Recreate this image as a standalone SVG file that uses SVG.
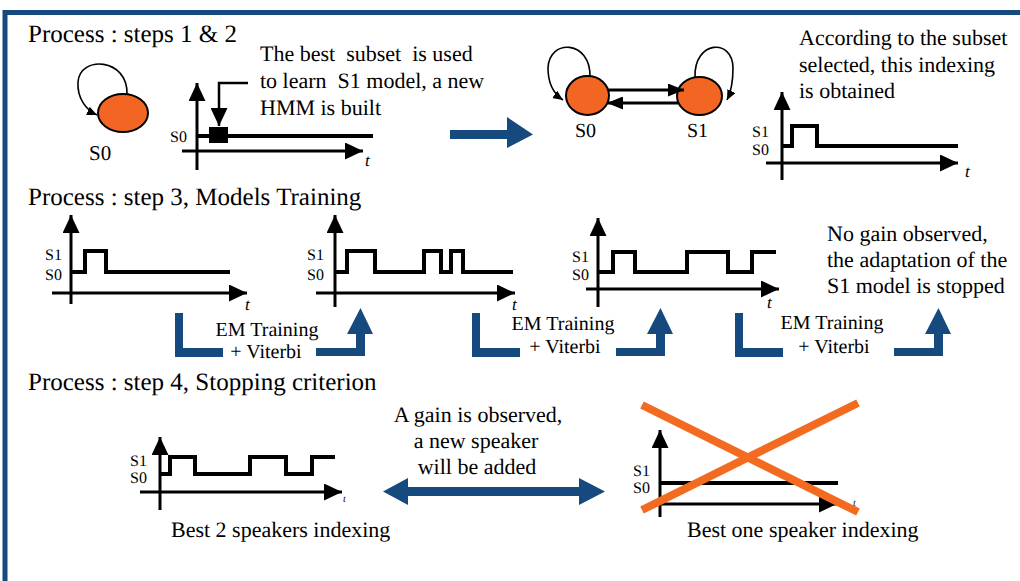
<svg xmlns="http://www.w3.org/2000/svg" width="1020" height="581" viewBox="0 0 1020 581" font-family="'Liberation Serif', 'Times New Roman', serif" text-rendering="geometricPrecision">
<style>
text{font-family:'Liberation Serif','Times New Roman',serif;fill:#000;text-rendering:geometricPrecision}
.h{font-size:25px}
.b{font-size:22px}
.em{font-size:20px}
.sl{font-size:20px}
.lab{font-size:16px}
.t{font-size:17px;font-style:italic}
.ts{font-size:10px;font-style:italic}
.axis{stroke:#000;stroke-width:3;fill:none}
.sig{stroke:#000;stroke-width:4;fill:none}
.st{fill:#f26522;stroke:#000;stroke-width:2}
.loop{stroke:#000;stroke-width:1.6;fill:none}
.tr{stroke:#000;stroke-width:3;fill:none}
.ptr{stroke:#000;stroke-width:2.5;fill:none}
.blue{fill:#164a7e}
.cross{stroke:#f26b21;stroke-width:8}
</style>
<defs>
<marker id="ah" markerUnits="userSpaceOnUse" markerWidth="18" markerHeight="17" refX="18" refY="8.5" orient="auto" viewBox="0 0 18 17"><path d="M0,0 L18,8.5 L0,17 z" fill="#000"/></marker>
<marker id="aht" markerUnits="userSpaceOnUse" markerWidth="16" markerHeight="13" refX="16" refY="6.5" orient="auto" viewBox="0 0 16 13"><path d="M0,0 L16,6.5 L0,13 z" fill="#000"/></marker>
<marker id="ahs" markerUnits="userSpaceOnUse" markerWidth="10" markerHeight="9" refX="10" refY="4.5" orient="auto" viewBox="0 0 10 9"><path d="M0,0 L10,4.5 L0,9 z" fill="#000"/></marker>
<path id="elbowL" class="blue" d="M0,313 H8 V348 H48 V357 H0 Z"/>
<path id="elbowR" class="blue" d="M0,348 H40 V334 H31 L44.5,308 L57,334 H49 V356 H0 Z"/>
</defs>

<g id="frame">
<path d="M5,581 V12.5 H1020" stroke="#164a7e" stroke-width="5" fill="none"/>
</g>

<g id="titles">
<text class="h" x="28" y="42">Process : steps 1 &amp; 2</text>
<text class="h" x="28" y="205">Process : step 3, Models Training</text>
<text class="h" x="28" y="390">Process : step 4, Stopping criterion</text>
</g>

<g id="state-s0-single">
<ellipse class="st" cx="123" cy="113" rx="25" ry="19"/>
<text class="sl" x="89" y="160" style="font-size:21px">S0</text>
</g>

<g id="chart-1">
<line class="axis" x1="197" y1="170" x2="197" y2="83" marker-end="url(#ah)"/>
<line class="axis" x1="182" y1="151" x2="363" y2="151" marker-end="url(#ah)"/>
<path class="sig" d="M197,136 H373"/>
<rect x="209" y="127" width="19" height="16" fill="#000"/>
<text class="lab" x="170" y="142">S0</text>
<text class="t" x="365" y="166">t</text>
</g>

<g id="note-1">
<text class="b" x="260" y="61" xml:space="preserve">The best  subset  is used</text>
<text class="b" x="260" y="88" xml:space="preserve">to learn  S1 model, a new</text>
<text class="b" x="260" y="115">HMM is built</text>
</g>

<g id="state-s0">
<ellipse class="st" cx="587.5" cy="95.5" rx="21.5" ry="19.5"/>
<text class="sl" x="575" y="137">S0</text>
</g>
<g id="state-s1">
<ellipse class="st" cx="699.5" cy="96" rx="22.5" ry="19"/>
<text class="sl" x="687" y="137">S1</text>
</g>

<g id="note-2">
<text class="b" x="799" y="45">According to the subset</text>
<text class="b" x="799" y="72">selected, this indexing</text>
<text class="b" x="799" y="98">is obtained</text>
</g>

<g id="chart-2">
<line class="axis" x1="782" y1="180" x2="782" y2="92" marker-end="url(#ah)"/>
<line class="axis" x1="766" y1="163" x2="958" y2="163" marker-end="url(#ah)"/>
<path class="sig" d="M782,146 H792 V126 H817 V146 H958"/>
<text class="lab" x="752" y="137">S1</text>
<text class="lab" x="752" y="155">S0</text>
<text class="t" x="965" y="177">t</text>
</g>

<g id="chart-a">
<line class="axis" x1="71" y1="304" x2="71" y2="215" marker-end="url(#ah)"/>
<line class="axis" x1="52" y1="293" x2="247" y2="293" marker-end="url(#ah)"/>
<path class="sig" d="M71,272 H85 V251 H106 V272 H230"/>
<text class="lab" x="45" y="260">S1</text>
<text class="lab" x="45" y="280">S0</text>
<text class="t" x="245" y="310">t</text>
</g>

<g id="chart-b">
<line class="axis" x1="335" y1="307" x2="335" y2="215" marker-end="url(#ah)"/>
<line class="axis" x1="316" y1="293" x2="515" y2="293" marker-end="url(#ah)"/>
<path class="sig" d="M335,272 H347 V251 H375 V272 H424 V251 H441 V272 H451 V251 H463 V272 H513"/>
<text class="lab" x="307" y="260">S1</text>
<text class="lab" x="307" y="280">S0</text>
<text class="t" x="512" y="310">t</text>
</g>

<g id="chart-c">
<line class="axis" x1="598" y1="307" x2="598" y2="218" marker-end="url(#ah)"/>
<line class="axis" x1="586" y1="289" x2="779" y2="289" marker-end="url(#ah)"/>
<path class="sig" d="M598,272 H613 V252 H635 V272 H687 V252 H728 V272 H752 V252 H776"/>
<text class="lab" x="572" y="262">S1</text>
<text class="lab" x="572" y="280">S0</text>
<text class="t" x="767" y="308">t</text>
</g>

<g id="note-3">
<text class="b" x="827" y="241">No gain observed,</text>
<text class="b" x="827" y="267">the adaptation of the</text>
<text class="b" x="827" y="293">S1 model is stopped</text>
</g>

<g id="em-label-1">
<text class="em" x="267" y="336" text-anchor="middle">EM Training</text>
<text class="em" x="266" y="358" text-anchor="middle">+ Viterbi</text>
</g>
<g id="em-label-2">
<text class="em" x="563" y="330" text-anchor="middle">EM Training</text>
<text class="em" x="565" y="353" text-anchor="middle">+ Viterbi</text>
</g>
<g id="em-label-3">
<text class="em" x="832" y="329" text-anchor="middle">EM Training</text>
<text class="em" x="834" y="353" text-anchor="middle">+ Viterbi</text>
</g>

<g id="chart-d">
<line class="axis" x1="160" y1="510" x2="160" y2="437" marker-end="url(#ah)"/>
<line class="axis" x1="140" y1="492" x2="342" y2="492" marker-end="url(#ah)"/>
<path class="sig" d="M160,474 H170 V457 H195 V474 H250 V457 H286 V474 H312 V457 H335"/>
<text class="lab" x="130" y="466">S1</text>
<text class="lab" x="130" y="483">S0</text>
<text class="ts" x="343" y="502">t</text>
<text class="b" x="171" y="537">Best 2 speakers indexing</text>
</g>

<g id="note-4">
<text class="b" x="478" y="422" text-anchor="middle">A gain is observed,</text>
<text class="b" x="476" y="448" text-anchor="middle">a new speaker</text>
<text class="b" x="477" y="474" text-anchor="middle">will be added</text>
</g>

<g id="chart-e">
<line class="axis" x1="660" y1="517" x2="660" y2="430" marker-end="url(#ah)"/>
<line class="axis" x1="660" y1="504" x2="837" y2="504" marker-end="url(#ah)"/>
<path class="sig" d="M660,483 H838"/>
<text class="lab" x="633" y="476">S1</text>
<text class="lab" x="633" y="493">S0</text>
<text class="ts" x="853" y="506">t</text>
<line class="cross" x1="642" y1="405" x2="858" y2="512"/>
<line class="cross" x1="642" y1="510" x2="858" y2="403"/>
<text class="b" x="687" y="537">Best one speaker indexing</text>
</g>

<g id="connectors">
<path class="loop" d="M127,94 C128,58 80,55 78,82 C77,98 86,110 97,115" marker-end="url(#ahs)"/>
<polyline class="ptr" points="248,83 219,83 219,126" marker-end="url(#ah)"/>
<polygon class="blue" points="450,130 507,130 507,117 533,134.5 507,148 507,139 450,139"/>
<path class="loop" d="M590,77 C591,40 549,38 548,68 C548,84 554,94 563,100" marker-end="url(#ahs)"/>
<path class="loop" d="M695,77 C694,40 733,38 733,68 C733,84 730,94 727,100" marker-end="url(#ahs)"/>
<line class="tr" x1="609" y1="90" x2="684" y2="90" marker-end="url(#aht)"/>
<line class="tr" x1="678" y1="103" x2="607" y2="103" marker-end="url(#aht)"/>
<use href="#elbowL" x="175"/>
<use href="#elbowR" x="316"/>
<use href="#elbowL" x="472"/>
<use href="#elbowR" x="616"/>
<use href="#elbowL" x="735"/>
<use href="#elbowR" x="894"/>
<polygon class="blue" points="383,491.5 408,478 408,487 579,487 579,478 605,491.5 579,505 579,496 408,496 408,505"/>
</g>
</svg>
